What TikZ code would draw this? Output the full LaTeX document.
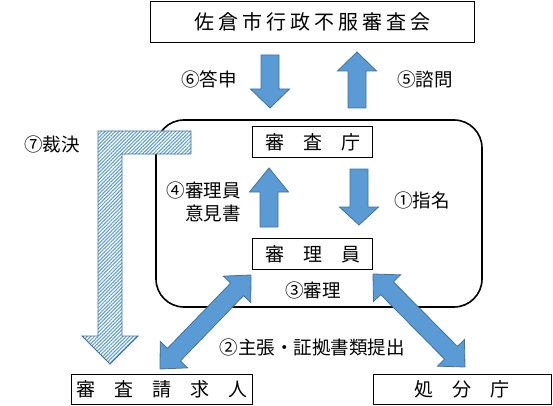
\documentclass[tikz,border=0pt]{standalone}
\usepackage{fontspec}
\setmainfont{Noto Sans CJK JP}
\usepackage{tikz}
\usetikzlibrary{calc, patterns.meta}

\definecolor{arrowblue}{HTML}{5B9BD5}
\definecolor{edgeblue}{HTML}{41719C}

\tikzset{
  box/.style={draw, line width=0.8pt, inner sep=0pt, font=\fontsize{19}{19}\selectfont},
  lab/.style={inner sep=0pt, font=\fontsize{18.5}{23}\selectfont},
  fat/.style={fill=arrowblue, draw=edgeblue, line width=0.8pt, line join=miter},
  hatch/.style={draw=edgeblue, line width=0.8pt, preaction={fill=white},
    pattern={Lines[angle=45,distance=2.5pt,line width=1.05pt]}, pattern color=arrowblue}
}

% block arrow: start, tip, head length
\newcommand{\onearrow}[3]{%
  \path (#1) coordinate (oa-s) ($(#2)!#3!(#1)$) coordinate (oa-h);
  \draw[fat] ($(oa-s)!9pt!90:(#2)$) -- ($(oa-h)!9pt!90:(#2)$) -- ($(oa-h)!19.5pt!90:(#2)$) -- (#2)
    -- ($(oa-h)!19.5pt!-90:(#2)$) -- ($(oa-h)!9pt!-90:(#2)$) -- ($(oa-s)!9pt!-90:(#2)$) -- cycle;
}
% block arrow with two heads
\newcommand{\twoarrow}[2]{%
  \path ($(#1)!20pt!(#2)$) coordinate (ta-a) ($(#2)!20pt!(#1)$) coordinate (ta-b);
  \draw[fat] (#1) -- ($(ta-a)!19pt!90:(#2)$) -- ($(ta-a)!9pt!90:(#2)$) -- ($(ta-b)!9pt!90:(#2)$)
    -- ($(ta-b)!19pt!90:(#2)$) -- (#2) -- ($(ta-b)!19pt!-90:(#2)$) -- ($(ta-b)!9pt!-90:(#2)$)
    -- ($(ta-a)!9pt!-90:(#2)$) -- ($(ta-a)!19pt!-90:(#2)$) -- cycle;
}

\begin{document}
\begin{tikzpicture}[x=1pt, y=-1pt]
    \useasboundingbox (0,0) rectangle (553,406);

    \node[draw, line width=1.6pt, rounded corners=28pt, minimum width=326pt, minimum height=187pt] (panel) at (319,213.5) {};

    \coordinate (rl) at (191,142.5);
    \coordinate (rt) at (110,364);
    \draw[hatch] ($(rl)+(0,-11.5)$) -| ($(rt)+(-12,-28)$) -- ++(-16,0) -- (rt) -- ++(28,-28) -- ++(-16,0) |- ($(rl)+(0,11.5)$) -- cycle;

    \node[box, minimum width=324pt, minimum height=41.5pt, font=\fontsize{20}{20}\selectfont\addfontfeature{LetterSpace=20}] (council) at (312.5,21.7) {佐倉市行政不服審査会};
    \node[box, minimum width=120pt, minimum height=30.6pt] (agency) at (312.7,142) {審　査　庁};
    \node[box, minimum width=120pt, minimum height=31pt] (examiner) at (312.5,254) {審　理　員};
    \node[box, minimum width=181pt, minimum height=30.5pt] (requester) at (161.8,389.2) {審　査　請　求　人};
    \node[box, minimum width=178pt, minimum height=30.5pt] (disposer) at (462,389.2) {処　分　庁};

    \node[lab] (answer) at (209,79) {⑥答申};
    \node[lab] (inquiry) at (425,79) {⑤諮問};
    \node[lab] (ruling) at (52,144) {⑦裁決};
    \node[lab, align=right, anchor=east] (opinion) at (241,201.5) {④審理員\\意見書};
    \node[lab] (appoint) at (422,200) {①指名};
    \node[lab] (hearing) at (313,290) {③審理};
    \node[lab] (submit) at (312,347) {②主張・証拠書類提出};

    \coordinate (a6s) at (270,55);  \coordinate (a6t) at (270,108);
    \coordinate (a5s) at (357,108); \coordinate (a5t) at (357,52);
    \coordinate (a4s) at (269,227); \coordinate (a4t) at (269,168);
    \coordinate (a1s) at (359,169); \coordinate (a1t) at (359,225);
    \onearrow{a6s}{a6t}{19pt}
    \onearrow{a5s}{a5t}{19pt}
    \onearrow{a4s}{a4t}{24pt}
    \onearrow{a1s}{a1t}{18pt}

    \coordinate (l1) at (251,275); \coordinate (l2) at (160,369);
    \coordinate (r1) at (373,274); \coordinate (r2) at (465,367);
    \twoarrow{l1}{l2}
    \twoarrow{r1}{r2}
\end{tikzpicture}
\end{document}
